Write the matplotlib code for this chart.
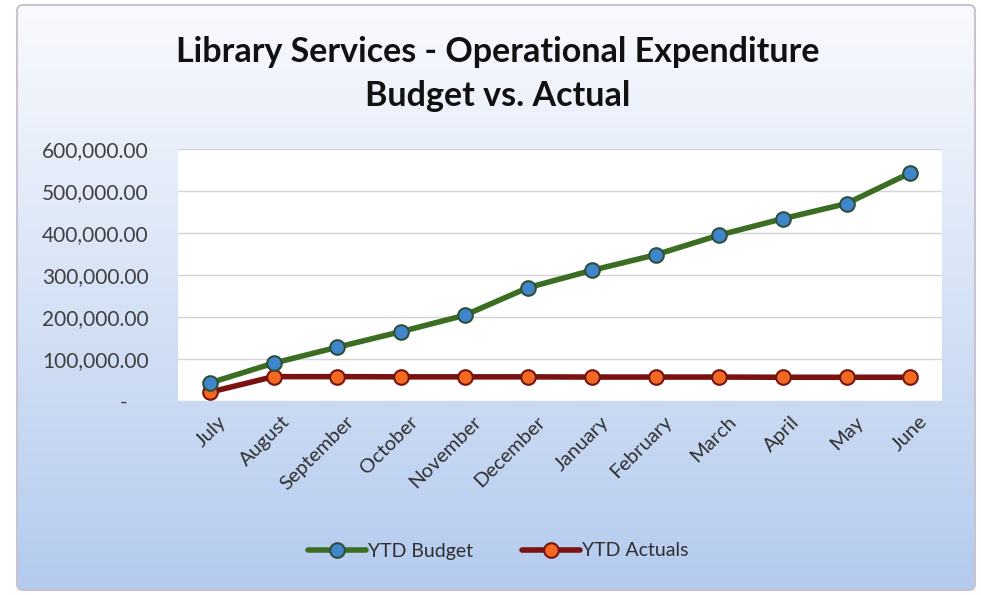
import numpy as np
import matplotlib
matplotlib.use("Agg")
import matplotlib.pyplot as plt
import matplotlib.transforms as mtransforms
from matplotlib.patches import FancyBboxPatch
from matplotlib.ticker import FuncFormatter

plt.rcParams['font.family'] = ['Lato', 'DejaVu Sans']

# data
months = ["July", "August", "September", "October", "November", "December",
          "January", "February", "March", "April", "May", "June"]
ytd_budget = [43000, 90000, 128000, 165000, 204000, 270000,
              311000, 348000, 395000, 434000, 470000, 543000]
ytd_actuals = [21000, 58000, 58000, 57500, 57500, 57500,
               57000, 57000, 57000, 56500, 56500, 56500]
yticks = [0, 100000, 200000, 300000, 400000, 500000, 600000]

W, H = 981, 595
fig = plt.figure(figsize=(W / 100, H / 100), dpi=100)
fig.patch.set_facecolor("white")

# gradient background of the chart area
bg = fig.add_axes([0, 0, 1, 1], zorder=-5)
bg.set_xlim(0, W)
bg.set_ylim(H, 0)
bg.axis("off")
top = np.array([249, 250, 254]) / 255.0
bot = np.array([180, 203, 238]) / 255.0
t = np.linspace(0, 1, 256)
grad = top[None, :] * (1 - t[:, None]) + bot[None, :] * t[:, None]
grad = np.repeat(grad[:, None, :], 2, axis=1)
x0, y0, x1, y1 = 17, 5, 975, 590
im = bg.imshow(grad, extent=[x0, x1, y1, y0], aspect="auto", zorder=0)
frame = FancyBboxPatch((x0, y0), x1 - x0, y1 - y0,
                       boxstyle="round,pad=0,rounding_size=6",
                       facecolor="none", edgecolor="#c9c3cf", lw=1.5, zorder=2)
bg.add_patch(frame)
im.set_clip_path(frame)

# plot area
ax = fig.add_axes([178 / W, 1 - 401 / H, (942 - 178) / W, (401 - 149) / H])
ax.set_facecolor("white")
x = np.arange(len(months))

ax.plot(x, ytd_budget, color="#3b6e22", lw=4, marker="o", ms=10.5,
        markerfacecolor="#3f86cc", markeredgecolor="#2f4f3a", markeredgewidth=1.5,
        label="YTD Budget", zorder=4, solid_capstyle="round")
ax.plot(x, ytd_actuals, color="#7a1212", lw=4, marker="o", ms=10.5,
        markerfacecolor="#f26a22", markeredgecolor="#7a1212", markeredgewidth=1.5,
        label="YTD Actuals", zorder=3, solid_capstyle="round")

ax.set_xlim(-0.5, len(months) - 0.5)
ax.set_ylim(0, 600000)
ax.set_yticks(yticks)
ax.yaxis.set_major_formatter(FuncFormatter(
    lambda v, p: "-    " if v == 0 else "{:,.2f}".format(v)))
ax.grid(axis="y", color="#d4d4d4", lw=1)
ax.set_axisbelow(True)
for s in ax.spines.values():
    s.set_visible(False)
ax.tick_params(axis="y", length=0, pad=21, labelsize=15, labelcolor="#404040")
ax.set_xticks(x)
ax.set_xticklabels(months, rotation=45, ha="right", va="center",
                   rotation_mode="anchor", fontsize=14.5, color="#303030")
ax.tick_params(axis="x", length=0, pad=13)
shift = mtransforms.ScaledTranslation(14 / 100, 0, fig.dpi_scale_trans)
for lab in ax.get_xticklabels():
    lab.set_transform(lab.get_transform() + shift)

fig.text(498 / W, 1 - 52 / H, "Library Services - Operational Expenditure",
         ha="center", va="center", fontsize=24.5, fontweight="bold", color="#111111")
fig.text(498 / W, 1 - 96 / H, "Budget vs. Actual",
         ha="center", va="center", fontsize=24.5, fontweight="bold", color="#111111")

fig.legend(loc="center", bbox_to_anchor=(498 / W, 1 - 551 / H), ncol=2,
           frameon=False, fontsize=14, handlelength=3, columnspacing=2.5,
           handletextpad=0.1, labelcolor="#303030")

fig.savefig("out.png", dpi=100)
